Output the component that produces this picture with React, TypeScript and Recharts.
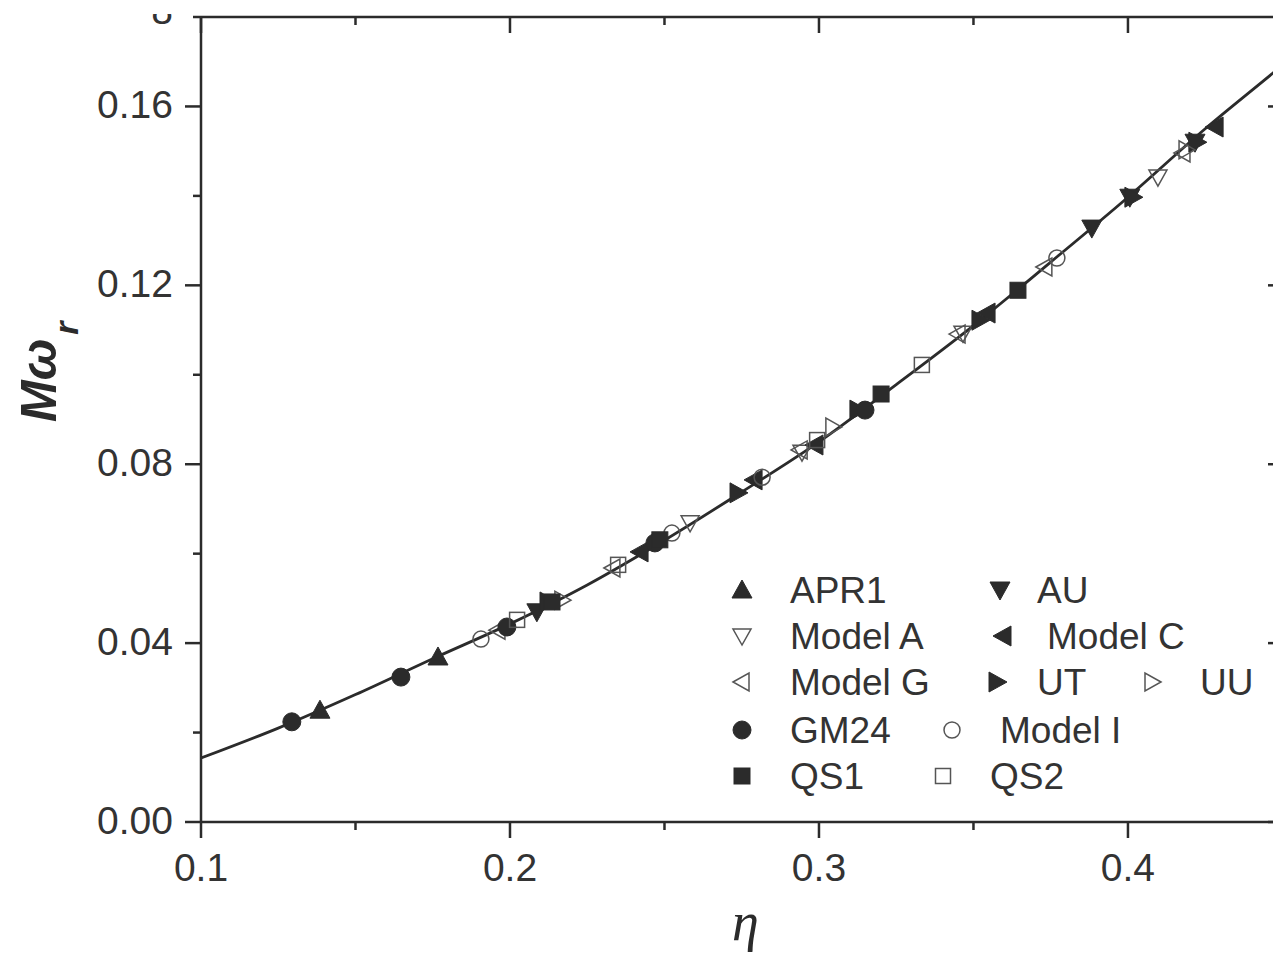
import { ScatterChart, Scatter, XAxis, YAxis, Legend, Label } from 'recharts';

const curve = [
  { x: 0.1, y: 0.0143 }, { x: 0.125, y: 0.021 }, { x: 0.15, y: 0.0285 }, { x: 0.175, y: 0.0365 },
  { x: 0.2, y: 0.0443 }, { x: 0.225, y: 0.053 }, { x: 0.25, y: 0.063 }, { x: 0.275, y: 0.0738 },
  { x: 0.3, y: 0.085 }, { x: 0.325, y: 0.0978 }, { x: 0.35, y: 0.111 }, { x: 0.375, y: 0.1252 },
  { x: 0.4, y: 0.1397 }, { x: 0.425, y: 0.155 }, { x: 0.447, y: 0.1675 }, { x: 0.4505, y: 0.1695 },
];

const apr1 = [{ x: 0.1385, y: 0.025 }, { x: 0.1767, y: 0.0369 }];
const au = [{ x: 0.2087, y: 0.047 }, { x: 0.3883, y: 0.1328 }, { x: 0.4006, y: 0.1397 }, { x: 0.4217, y: 0.152 }];
const modelA = [{ x: 0.2583, y: 0.0669 }, { x: 0.2945, y: 0.0827 }, { x: 0.3466, y: 0.1093 }, { x: 0.4097, y: 0.1442 }];
const modelC = [{ x: 0.2421, y: 0.0604 }, { x: 0.279, y: 0.0765 }, { x: 0.2987, y: 0.0843 }, { x: 0.3544, y: 0.1138 }, { x: 0.4282, y: 0.1554 }];
const modelG = [{ x: 0.1961, y: 0.0429 }, { x: 0.2333, y: 0.0568 }, { x: 0.2939, y: 0.0832 }, { x: 0.345, y: 0.1091 }, { x: 0.3731, y: 0.1241 }, { x: 0.4178, y: 0.1496 }];
const ut = [{ x: 0.2123, y: 0.0492 }, { x: 0.2738, y: 0.0736 }, { x: 0.3126, y: 0.0921 }, { x: 0.3521, y: 0.1122 }, { x: 0.4016, y: 0.1397 }, { x: 0.4223, y: 0.152 }];
const uu = [{ x: 0.2168, y: 0.0496 }, { x: 0.3045, y: 0.0883 }, { x: 0.4188, y: 0.1503 }];
const gm24 = [{ x: 0.1294, y: 0.0224 }, { x: 0.1647, y: 0.0324 }, { x: 0.199, y: 0.0436 }, { x: 0.2469, y: 0.0624 }, { x: 0.3149, y: 0.0921 }];
const modelI = [{ x: 0.1906, y: 0.0409 }, { x: 0.2524, y: 0.0646 }, { x: 0.2816, y: 0.0771 }, { x: 0.377, y: 0.1261 }];
const qs1 = [{ x: 0.2136, y: 0.0492 }, { x: 0.2485, y: 0.0631 }, { x: 0.3201, y: 0.0957 }, { x: 0.3644, y: 0.1189 }];
const qs2 = [{ x: 0.2023, y: 0.0452 }, { x: 0.235, y: 0.0575 }, { x: 0.2994, y: 0.0854 }, { x: 0.3333, y: 0.1022 }];

const xTicks = [0.1, 0.15, 0.2, 0.25, 0.3, 0.35, 0.4];
const xLabels = ['0.1', '0.2', '0.3', '0.4'];
const yTicks = [0, 0.02, 0.04, 0.06, 0.08, 0.1, 0.12, 0.14, 0.16, 0.18];
const yLabels = ['0.00', '0.04', '0.08', '0.12', '0.16'];

const X_MAX = 0.4505;
const ink = '#2b2b2b';
const sans = '"Liberation Sans", Arial, sans-serif';

type Kind = 'up' | 'down' | 'left' | 'right' | 'circle' | 'square';

const series: { name: string; data: { x: number; y: number }[]; kind: Kind; filled: boolean }[] = [
  { name: 'APR1', data: apr1, kind: 'up', filled: true },
  { name: 'AU', data: au, kind: 'down', filled: true },
  { name: 'Model A', data: modelA, kind: 'down', filled: false },
  { name: 'Model C', data: modelC, kind: 'left', filled: true },
  { name: 'Model G', data: modelG, kind: 'left', filled: false },
  { name: 'UT', data: ut, kind: 'right', filled: true },
  { name: 'UU', data: uu, kind: 'right', filled: false },
  { name: 'GM24', data: gm24, kind: 'circle', filled: true },
  { name: 'Model I', data: modelI, kind: 'circle', filled: false },
  { name: 'QS1', data: qs1, kind: 'square', filled: true },
  { name: 'QS2', data: qs2, kind: 'square', filled: false },
];

// legend grid: marker x, text x, row y
const legendSlots: Record<string, [number, number, number]> = {
  APR1: [742, 790, 590],
  AU: [1000, 1037, 590],
  'Model A': [742, 790, 636],
  'Model C': [1003, 1047, 636],
  'Model G': [742, 790, 682],
  UT: [997, 1037, 682],
  UU: [1152, 1200, 682],
  GM24: [742, 790, 730],
  'Model I': [952, 1000, 730],
  QS1: [742, 790, 776],
  QS2: [943, 990, 776],
};

const Marker = ({ cx, cy, kind, filled }: { cx: number; cy: number; kind: Kind; filled: boolean }) => {
  const fill = filled ? ink : 'none';
  const stroke = filled ? ink : '#555';
  const sw = filled ? 1 : 1.5;
  const a = filled ? 10 : 9;
  const b = filled ? 8 : 7;
  if (kind === 'circle') return <circle cx={cx} cy={cy} r={filled ? 9 : 8} fill={fill} stroke={stroke} strokeWidth={sw} />;
  if (kind === 'square') {
    const h = filled ? 8 : 7.5;
    return <rect x={cx - h} y={cy - h} width={2 * h} height={2 * h} fill={fill} stroke={stroke} strokeWidth={sw} />;
  }
  let pts = '';
  if (kind === 'up') pts = `${cx},${cy - a} ${cx - a},${cy + b} ${cx + a},${cy + b}`;
  if (kind === 'down') pts = `${cx},${cy + a} ${cx - a},${cy - b} ${cx + a},${cy - b}`;
  if (kind === 'left') pts = `${cx - a},${cy} ${cx + b},${cy - a} ${cx + b},${cy + a}`;
  if (kind === 'right') pts = `${cx + a},${cy} ${cx - b},${cy - a} ${cx - b},${cy + a}`;
  return <polygon points={pts} fill={fill} stroke={stroke} strokeWidth={sw} strokeLinejoin="miter" />;
};

const isYMajor = (v: number) => Math.round(v * 100) % 4 === 0 && v < 0.17;
const isXMajor = (v: number) => Math.round(v * 100) % 10 === 0;

const LeftTick = (p: any) => {
  const { x, y, payload } = p;
  const v = payload.value as number;
  const major = isYMajor(v);
  const len = major ? 16 : 8;
  const idx = Math.round(v * 100) / 4;
  return (
    <g>
      <line x1={x - len} x2={x} y1={y} y2={y} stroke={ink} strokeWidth={2.5} />
      {major && (
        <text x={x - 28} y={y + 12} textAnchor="end" fontFamily={sans} fontSize={39} fill="#333">
          {yLabels[idx]}
        </text>
      )}
      {v > 0.17 && (
        <g>
          <defs>
            <clipPath id="topcut">
              <rect x={150} y={14} width={40} height={30} />
            </clipPath>
          </defs>
          <text x={x - 28} y={y + 7} textAnchor="end" fontFamily={sans} fontSize={39} fill="#333" clipPath="url(#topcut)">
            0.18
          </text>
        </g>
      )}
    </g>
  );
};

const RightTick = (p: any) => {
  const { x, y, payload } = p;
  const len = isYMajor(payload.value) ? 16 : 8;
  return <line x1={x - len} x2={x} y1={y} y2={y} stroke={ink} strokeWidth={2.5} />;
};

const BottomTick = (p: any) => {
  const { x, y, payload } = p;
  const v = payload.value as number;
  const major = isXMajor(v);
  const len = major ? 16 : 8;
  return (
    <g>
      <line x1={x} x2={x} y1={y} y2={y + len} stroke={ink} strokeWidth={2.5} />
      {major && (
        <text x={x} y={y + 59} textAnchor="middle" fontFamily={sans} fontSize={39} fill="#333">
          {xLabels[Math.round(v * 10) - 1]}
        </text>
      )}
    </g>
  );
};

const TopTick = (p: any) => {
  const { x, y, payload } = p;
  const len = isXMajor(payload.value) ? 16 : 8;
  return <line x1={x} x2={x} y1={y} y2={y + len} stroke={ink} strokeWidth={2.5} />;
};

const EtaLabel = (p: any) => {
  const vb = p.viewBox;
  return (
    <text x={vb.x + vb.width / 2 + 3} y={vb.y + 118} textAnchor="middle" fontFamily='"Liberation Serif", "Times New Roman", serif' fontStyle="italic" fontSize={54} fill={ink}>
      η
    </text>
  );
};

const MwLabel = (p: any) => {
  const vb = p.viewBox;
  const x = vb.x + 56;
  const y = vb.y + 405;
  return (
    <text x={x} y={y} transform={`rotate(-90, ${x}, ${y})`} fontFamily={sans} fontWeight="bold" fontStyle="italic" fontSize={50} fill={ink}>
      Mω
      <tspan dy={22} dx={4} fontSize={34}>r</tspan>
    </text>
  );
};

const renderLegend = () => (
  <svg width={1273} height={953} style={{ position: 'absolute', left: 0, top: 0 }}>
    {series.map((s) => {
      const [mx, tx, ry] = legendSlots[s.name];
      return (
        <g key={s.name}>
          <Marker cx={mx} cy={ry} kind={s.kind} filled={s.filled} />
          <text x={tx} y={ry + 13} fontFamily={sans} fontSize={37} fill="#333">
            {s.name}
          </text>
        </g>
      );
    })}
  </svg>
);

const axisLine = { stroke: ink, strokeWidth: 2.5 };

export default function App() {
  return (
    <div style={{ position: 'absolute', left: 0, top: 0, width: 1273, height: 953, overflow: 'hidden', background: '#fff' }}>
      <ScatterChart width={1310} height={953} margin={{ top: 16, right: 25, bottom: 0, left: 0 }}>
        <XAxis type="number" dataKey="x" domain={[0.1, X_MAX]} ticks={xTicks} interval={0} allowDataOverflow
          height={131} axisLine={axisLine} tickLine={false} tickSize={0} tickMargin={0} tick={BottomTick}>
          <Label content={EtaLabel} />
        </XAxis>
        <XAxis xAxisId="top" orientation="top" type="number" dataKey="x" domain={[0.1, X_MAX]} ticks={xTicks} interval={0} allowDataOverflow
          height={1} axisLine={axisLine} tickLine={false} tickSize={0} tickMargin={0} tick={TopTick} />
        <YAxis type="number" dataKey="y" domain={[0, 0.18]} ticks={yTicks} interval={0} allowDataOverflow
          width={201} axisLine={axisLine} tickLine={false} tickSize={0} tickMargin={0} tick={LeftTick}>
          <Label content={MwLabel} />
        </YAxis>
        <YAxis yAxisId="right" orientation="right" type="number" dataKey="y" domain={[0, 0.18]} ticks={yTicks} interval={0} allowDataOverflow
          width={1} axisLine={axisLine} tickLine={false} tickSize={0} tickMargin={0} tick={RightTick} />
        <Scatter name="fit" data={curve} line={{ stroke: ink, strokeWidth: 2.8 }} lineType="joint" lineJointType="monotoneX"
          shape={() => <g />} isAnimationActive={false} legendType="none" />
        {/* frame axes need a series of their own to be drawn */}
        <Scatter name="frame" data={curve} xAxisId="top" yAxisId="right" shape={() => <g />} isAnimationActive={false} legendType="none" />
        {series.map((s) => (
          <Scatter key={s.name} name={s.name} data={s.data} isAnimationActive={false}
            shape={(p: any) => <Marker cx={p.cx} cy={p.cy} kind={s.kind} filled={s.filled} />} />
        ))}
        <Legend content={renderLegend} layout="horizontal" verticalAlign="middle" align="center"
          wrapperStyle={{ left: 0, top: 0, width: 1273, height: 953, pointerEvents: 'none' }} />
      </ScatterChart>
    </div>
  );
}
